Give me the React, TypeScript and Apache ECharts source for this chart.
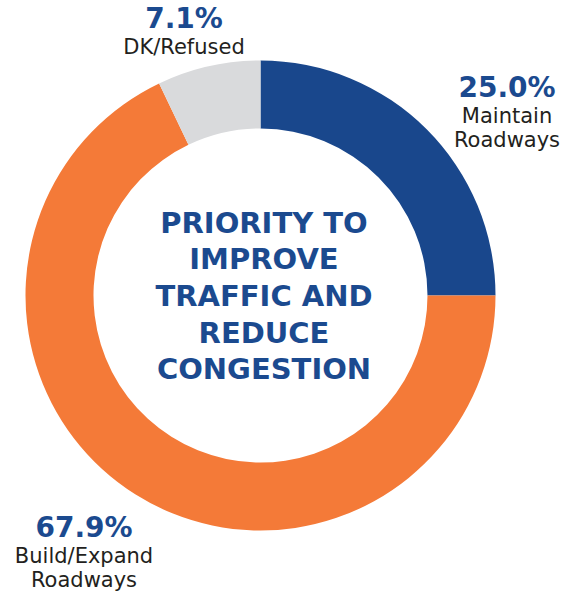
import React, { useEffect, useRef } from "react";
import * as echarts from "echarts";

const categories = ["Maintain\nRoadways", "Build/Expand\nRoadways", "DK/Refused"];
const values = [25.0, 67.9, 7.1];
const sliceColors = ["#19478C", "#F47A38", "#D9DADC"];
const titleLines = ["PRIORITY TO", "IMPROVE", "TRAFFIC AND", "REDUCE", "CONGESTION"];

const labelPos = [
  { x: 507, y: 71 },
  { x: 84, y: 511 },
  { x: 184, y: 2 },
];

const FONT = "'DejaVu Sans', sans-serif";
const BLUE = "#1B4A8F";

export default function App() {
  const ref = useRef<HTMLDivElement>(null);
  useEffect(() => {
    if (!ref.current) return;
    const chart = echarts.init(ref.current, undefined, { renderer: "svg" });
    chart.setOption({
      animation: false,
      backgroundColor: "#ffffff",
      series: [
        {
          type: "pie",
          silent: true,
          center: [260.5, 295.5],
          radius: [167, 235],
          startAngle: 90,
          clockwise: true,
          avoidLabelOverlap: false,
          itemStyle: { borderWidth: 0 },
          emphasis: { disabled: true },
          data: categories.map((name, i) => ({
            name,
            value: values[i],
            itemStyle: { color: sliceColors[i] },
          })),
          label: {
            show: true,
            position: "outside",
            formatter: (p: any) => {
              const lines = String(p.name).split("\n").map((l: string) => `{n|${l}}`).join("\n");
              return `{p|${Number(p.value).toFixed(1)}%}\n${lines}`;
            },
            rich: {
              p: {
                fontFamily: FONT,
                fontSize: 28,
                fontWeight: "bold",
                color: BLUE,
                lineHeight: 33,
                align: "center",
              },
              n: {
                fontFamily: FONT,
                fontSize: 21,
                color: "#231F20",
                lineHeight: 24,
                align: "center",
              },
            },
          },
          labelLine: { show: false },
          labelLayout: (params: any) => {
            const pos = labelPos[params.dataIndex];
            return { x: pos.x, y: pos.y, align: "center", verticalAlign: "top" };
          },
        },
      ],
      graphic: [
        {
          type: "text",
          silent: true,
          x: 264,
          y: 296,
          style: {
            text: titleLines.join("\n"),
            textAlign: "center",
            textVerticalAlign: "middle",
            fontFamily: FONT,
            fontSize: 29,
            fontWeight: "bold",
            lineHeight: 36.7,
            fill: BLUE,
          },
        },
      ],
    });
    return () => chart.dispose();
  }, []);
  return (
    <div
      ref={ref}
      style={{ position: "absolute", left: 0, top: 0, width: 571, height: 593 }}
    />
  );
}
